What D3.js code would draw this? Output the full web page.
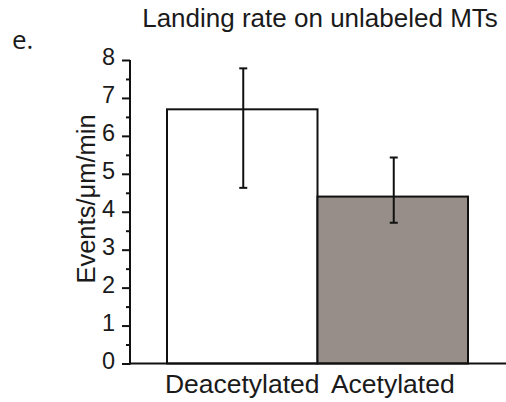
<!DOCTYPE html>
<html>
<head>
<meta charset="utf-8">
<script src="https://cdn.jsdelivr.net/npm/d3@7"></script>
<style>
  html, body { margin: 0; padding: 0; background: #fff; }
  svg { display: block; }
  text { font-family: "Liberation Sans", Arial, sans-serif; fill: #1a1a1a; }
</style>
</head>
<body>
<svg id="chart" width="506" height="402"></svg>
<script>
// Landing rate per condition, with asymmetric error bar ends
const categories = ["Deacetylated", "Acetylated"];
const values = [6.7, 4.4];
const errLow = [4.63, 3.71];
const errHigh = [7.78, 5.43];
const fills = ["#ffffff", "#978e89"];
const yTicks = [0, 1, 2, 3, 4, 5, 6, 7, 8];
const yMinorTicks = [0.5, 1.5, 2.5, 3.5, 4.5, 5.5, 6.5, 7.5];

const svg = d3.select("#chart");
const axisX = 130, baseY = 363.5;

const x = d3.scaleBand().domain(categories).range([167, 468]).padding(0);
const y = d3.scaleLinear().domain([0, 8]).range([baseY, 60]);

// panel label
svg.append("text").attr("x", 12).attr("y", 49)
  .style("font-family", "'Open Sans', sans-serif").style("font-size", "26px")
  .text("e.");

// title
svg.append("text").attr("x", 320).attr("y", 27).attr("text-anchor", "middle")
  .style("font-size", "26px").text("Landing rate on unlabeled MTs");

// bars
svg.append("g").selectAll("rect").data(categories).join("rect")
  .attr("x", d => x(d))
  .attr("y", (d, i) => y(values[i]))
  .attr("width", x.bandwidth())
  .attr("height", (d, i) => y(0) - y(values[i]))
  .attr("fill", (d, i) => fills[i])
  .attr("stroke", "#111").attr("stroke-width", 2);

// error bars
const eb = svg.append("g").attr("stroke", "#111").attr("stroke-width", 2);
categories.forEach((c, i) => {
  const cx = x(c) + x.bandwidth() / 2 + 1;
  eb.append("line").attr("x1", cx).attr("x2", cx).attr("y1", y(errLow[i])).attr("y2", y(errHigh[i]));
  [errLow[i], errHigh[i]].forEach(v => {
    eb.append("line").attr("x1", cx - 4).attr("x2", cx + 4).attr("y1", y(v)).attr("y2", y(v));
  });
});

// y axis: major ticks with labels
const yAxis = svg.append("g").attr("transform", `translate(${axisX},0)`)
  .call(d3.axisLeft(y).tickValues(yTicks).tickFormat(d3.format("d")).tickSize(8).tickPadding(7));
yAxis.select(".domain").remove();
yAxis.selectAll("line").attr("stroke", "#111").attr("stroke-width", 2);
yAxis.selectAll("text").style("font-size", "23.5px").style("font-family", "'Liberation Sans', Arial, sans-serif")
  .attr("fill", "#1a1a1a").attr("dy", "0.2em");

// minor ticks
const yMinor = svg.append("g").attr("transform", `translate(${axisX},0)`)
  .call(d3.axisLeft(y).tickValues(yMinorTicks).tickFormat("").tickSize(4));
yMinor.select(".domain").remove();
yMinor.selectAll("line").attr("stroke", "#111").attr("stroke-width", 2);

// axis lines
svg.append("line").attr("x1", axisX).attr("x2", axisX).attr("y1", y(8)).attr("y2", baseY + 1)
  .attr("stroke", "#111").attr("stroke-width", 2);
svg.append("line").attr("x1", axisX - 1).attr("x2", 506).attr("y1", baseY).attr("y2", baseY)
  .attr("stroke", "#111").attr("stroke-width", 2);

// category labels
svg.append("g").selectAll("text").data(categories).join("text")
  .attr("x", d => x(d) + x.bandwidth() / 2)
  .attr("y", 393).attr("text-anchor", "middle")
  .style("font-size", "26.5px").text(d => d);

// y axis title
svg.append("text").attr("transform", "translate(95,199) rotate(-90)")
  .attr("text-anchor", "middle").style("font-size", "25.5px").text("Events/μm/min");
</script>
</body>
</html>
